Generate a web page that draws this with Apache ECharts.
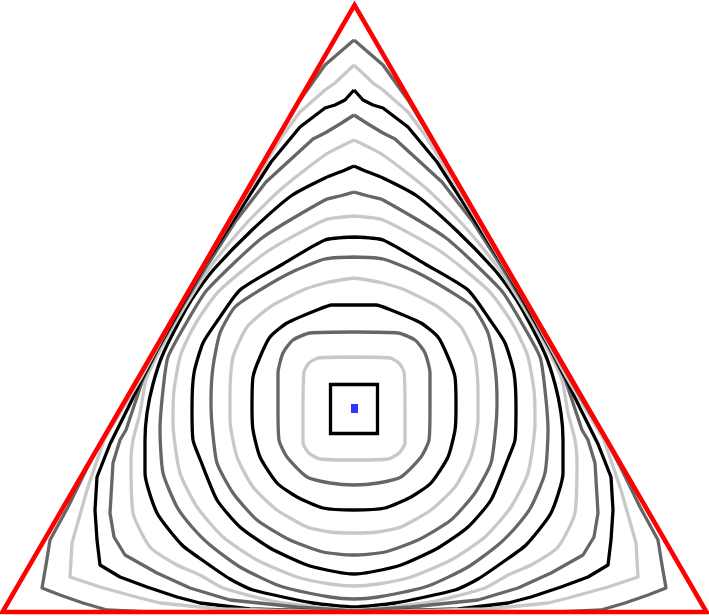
<!DOCTYPE html>
<html><head><meta charset="utf-8">
<script src="https://cdn.jsdelivr.net/npm/echarts@6/dist/echarts.min.js"></script>
<style>html,body{margin:0;padding:0;background:#fff}#c{width:709px;height:616px}</style>
</head><body><div id="c"></div>
<script>
// Domain boundary (triangle) and centre point, in image-like data units
const triangle = [[354.5,612],[706.5,612],[354.5,5],[2.5,612],[354.5,612]];
const centre = [[354.5,408.5]];

// Contour levels, from the centre outwards
const c01 = [[354,384.5],[377.5,384.5],[377.5,433.5],[330.5,433.5],[330.5,384.5],[354,384.5]];
const c02 = [[354,357],[318,358],[309,363],[304,372],[303,408],[303,443],[309,453],[320,459],[354,460],[388,459],[399,453],[405,443],[405,408],[404,372],[399,363],[390,358],[354,357]];
const c03 = [[354,332],[310,333],[293,340],[283,353],[278,373],[278,408],[279,440],[287,457],[307,477],[330,483],[354,485],[378,483],[401,477],[421,457],[429,440],[430,408],[430,373],[425,353],[415,340],[398,333],[354,332]];
const c04 = [[354,305],[332,305],[317,310],[287,323],[270,337],[260,357],[253,377],[252,408],[253,430],[260,457],[277,483],[297,497],[323,508],[354,510],[385,508],[411,497],[431,483],[448,457],[455,430],[456,408],[455,377],[448,357],[438,337],[421,323],[391,310],[376,305],[354,305]];
const c05 = [[354,278],[340,280],[325,283],[303,290],[270,307],[247,327],[233,357],[230,390],[230,420],[237,457],[253,487],[277,510],[307,527],[330,532],[354,533],[378,532],[401,527],[431,510],[455,487],[471,457],[478,420],[478,390],[475,357],[461,327],[438,307],[405,290],[383,283],[368,280],[354,278]];
const c06 = [[354,257],[325,259],[292,272],[260,290],[235,307],[220,333],[213,367],[211,400],[212,425],[217,463],[233,493],[257,520],[290,540],[323,552],[354,555],[385,552],[418,540],[451,520],[475,493],[491,463],[496,425],[497,400],[495,367],[488,333],[473,307],[448,290],[416,272],[383,259],[354,257]];
const c07 = [[354,237],[325,240],[283,264],[240,290],[218,320],[203,343],[194,373],[192,408],[193,440],[200,459],[217,500],[240,527],[270,548],[307,565],[337,572],[354,574],[371,572],[401,565],[438,548],[468,527],[491,500],[508,459],[515,440],[516,408],[514,373],[505,343],[490,320],[468,290],[425,264],[383,240],[354,237]];
const c08 = [[354,216],[325,220],[268,251],[220,290],[199,318],[188,338],[180,357],[174,390],[173,423],[180,473],[197,507],[223,537],[257,560],[297,577],[330,584],[354,586],[378,584],[411,577],[451,560],[485,537],[511,507],[528,473],[535,423],[534,390],[528,357],[520,338],[509,318],[488,290],[440,251],[383,220],[354,216]];
const c09 = [[354,192],[340,196],[325,200],[262,238],[207,290],[188,320],[168,357],[163,390],[160,430],[163,473],[177,507],[192,527],[210,545],[240,567],[280,586],[330,597],[354,599],[378,597],[428,586],[468,567],[498,545],[516,527],[531,507],[545,473],[548,430],[545,390],[540,357],[520,320],[501,290],[446,238],[383,200],[368,196],[354,192]];
const c10 = [[354,166],[345,170],[325,178],[291,196],[251,231],[215,268],[198,290],[186,309],[163,354],[153,384],[147,413],[145,440],[145,473],[157,513],[182,545],[205,562],[230,579],[253,590],[313,603],[354,607],[395,603],[455,590],[478,579],[503,562],[526,545],[551,513],[563,473],[563,440],[561,413],[555,384],[545,354],[522,309],[510,290],[493,268],[457,231],[417,196],[383,178],[363,170],[354,166]];
const c11 = [[354,140],[325,155],[280,190],[243,227],[211,266],[184,308],[159,352],[146,380],[140,413],[133,440],[131,460],[133,513],[150,547],[177,565],[200,575],[223,588],[277,602],[354,610],[431,602],[485,588],[508,575],[531,565],[558,547],[575,513],[577,460],[575,440],[568,413],[562,380],[549,352],[524,308],[497,266],[465,227],[428,190],[383,155],[354,140]];
const c12 = [[354,115],[340,124],[325,133],[313,139],[266,182],[235,222],[208,264],[182,307],[157,351],[143,379],[134,406],[126,430],[120,440],[113,463],[110,513],[114,537],[125,555],[157,573],[190,588],[230,600],[297,607],[354,611],[411,607],[478,600],[518,588],[551,573],[583,555],[594,537],[598,513],[595,463],[588,440],[582,430],[574,406],[565,379],[551,351],[526,307],[500,264],[473,222],[442,182],[395,139],[383,133],[368,124],[354,115]];
const c13 = [[354,90],[345,100],[335,105],[325,108],[300,127],[271,162],[233,221],[206,263],[181,307],[157,350],[142,379],[128,408],[110,444],[97,477],[95,510],[97,540],[100,565],[120,577],[147,587],[177,597],[200,603],[250,609],[354,612],[458,609],[508,603],[531,597],[561,587],[588,577],[608,565],[611,540],[613,510],[611,477],[598,444],[580,408],[566,379],[551,350],[527,307],[502,263],[475,221],[437,162],[408,127],[383,108],[373,105],[363,100],[354,90]];
const c14 = [[354,65],[335,83],[325,90],[300,112],[283,135],[257,177],[231,220],[180,306],[141,378],[104,440],[92,475],[87,490],[72,543],[70,577],[100,587],[140,598],[160,603],[220,609],[354,612],[488,609],[548,603],[568,598],[608,587],[638,577],[636,543],[621,490],[616,475],[604,440],[567,378],[528,306],[477,220],[451,177],[425,135],[408,112],[383,90],[373,83],[354,65]];
const c15 = [[354,40],[325,65],[300,100],[280,133],[230,219],[180,306],[130,393],[102,440],[87,468],[68,507],[50,540],[46,565],[42,588],[60,595],[83,603],[107,610],[150,612],[354,612],[558,612],[601,610],[625,603],[648,595],[666,588],[662,565],[658,540],[640,507],[621,468],[606,440],[578,393],[528,306],[478,219],[428,133],[408,100],[383,65],[354,40]];

const contours = [c01,c02,c03,c04,c05,c06,c07,c08,c09,c10,c11,c12,c13,c14,c15];
const levelColors = ['#000000','#c8c8c8','#666666'];

const chart = echarts.init(document.getElementById('c'), null, {renderer:'canvas'});
const series = contours.map((pts, i) => ({
  type: 'line', data: pts, symbol: 'none', showSymbol: false, silent: true,
  smooth: (i > 0 && i < 11) ? 0.2 : false,
  lineStyle: { color: levelColors[i % 3], width: 3.3, join: i === 0 ? 'miter' : 'round' },
  z: 2
}));
series.push({
  type: 'line', data: triangle, symbol: 'none', silent: true,
  lineStyle: { color: '#ff0000', width: 4.5, join: 'miter', miterLimit: 10 },
  z: 5
});
series.push({
  type: 'scatter', data: centre, symbol: 'rect', symbolSize: [7, 9],
  itemStyle: { color: '#0000ff' }, z: 6, silent: true
});
chart.setOption({
  animation: false,
  backgroundColor: '#ffffff',
  grid: { left: 0, right: 0, top: 0, bottom: 0 },
  xAxis: { type: 'value', min: 0, max: 709, show: false },
  yAxis: { type: 'value', min: 0, max: 616, inverse: true, show: false },
  series: series
});
</script></body></html>
